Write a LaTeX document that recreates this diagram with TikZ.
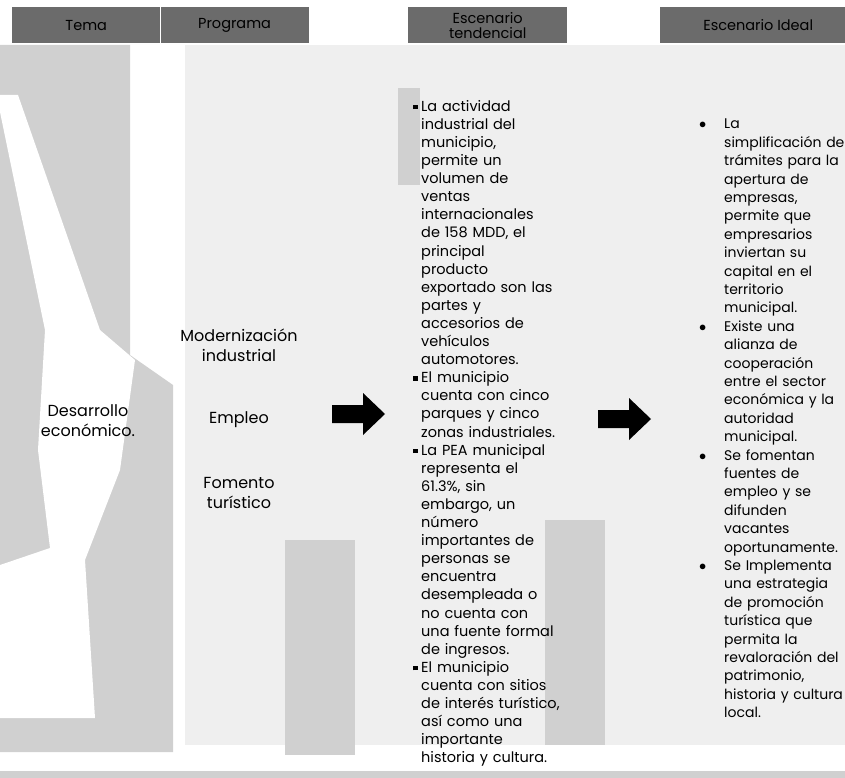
\documentclass[tikz,border=0pt]{standalone}
\usepackage{fontspec}
\setmainfont{Poppins}
\usepackage{xcolor}
\definecolor{Barra}{HTML}{6B6B6B}
\definecolor{Trama}{HTML}{D0D0D0}
\definecolor{TramaClara}{HTML}{EFEFEF}
\usetikzlibrary{positioning}
\newlength{\anchoTend}\setlength{\anchoTend}{137pt}
\newlength{\anchoIdeal}\setlength{\anchoIdeal}{120pt}
% renglones justificados
\newcommand{\jt}[1]{\makebox[\anchoTend][s]{#1}}
\newcommand{\ji}[1]{\makebox[\anchoIdeal][s]{#1}}
\newcommand{\vinC}{\leavevmode\llap{\rule[2pt]{4.5pt}{4.5pt}\hspace{3.5pt}}}
\newcommand{\vinR}{\leavevmode\llap{\makebox[25pt][l]{$\bullet$}}}
\tikzset{
  encabezado/.style={fill=Barra,anchor=north west,minimum height=36pt,inner sep=0pt,
    align=center,font=\fontsize{14.5}{15}\selectfont},
  tema/.style={align=center,font=\fontsize{16}{20}\selectfont},
  columna/.style={anchor=north west,inner sep=0pt,align=left,
    font=\fontsize{14.5}{18.1}\selectfont},
  trama/.style={fill=Trama,draw=none},
  tramaclara/.style={fill=TramaClara,draw=none},
  flechaBloque/.pic={\fill (0,-9) -- (31,-9) -- (31,-21) -- (53,0) -- (31,21) -- (31,9) -- (0,9) -- cycle;}
}

\begin{document}
\begin{tikzpicture}[x=1pt,y=-1pt]
  \useasboundingbox (0,0) rectangle (845,778);
  \clip (0,0) rectangle (845,778);
  % fondo del escaneo
  \fill[tramaclara] (185,45) rectangle (845,745);
  \fill[trama] (0,45) -- (130,45) -- (130,355) -- (173,385) -- (173,752) -- (0,752) -- cycle;
  \fill[white] (0,95) -- (18,95) -- (100,330) -- (135,360) -- (120,470) -- (85,560)
    -- (95,718) -- (0,718) -- (0,565) -- (50,548) -- (38,450) -- (45,330) -- (0,112) -- cycle;
  \fill[trama] (398,88) rectangle (420,185);
  \fill[trama] (285,540) rectangle (355,755);
  \fill[trama] (545,520) rectangle (605,745);
  \fill[trama] (0,771) rectangle (845,778);

  \node[encabezado,minimum width=148pt] (barTema) at (12,7) {Tema};
  \node[encabezado,minimum width=148pt,right=0pt of barTema] (barPrograma) {Programa};
  \node[encabezado,minimum width=159pt] (barTendencial) at (408,7) {Escenario\\tendencial};
  \node[encabezado,minimum width=196pt] (barIdeal) at (660,7) {Escenario Ideal};

  \node[tema] (desarrollo) at (88,421) {Desarrollo\\económico.};
  \node[tema] (modernizacion) at (239,345) {Modernización\\industrial};
  \node[tema] (empleo) at (239,420) {Empleo};
  \node[tema] (fomento) at (239,493) {Fomento\\turístico};

  \pic (flechaTema) at (332,414) {flechaBloque};
  \pic (flechaIdeal) at (598,419) {flechaBloque};

  \node[columna,text width=\anchoTend] (tendencial) at (421,100) {%
    \vinC\jt{La actividad}\\
    \jt{industrial del}\\
    municipio,\\
    \jt{permite un}\\
    \jt{volumen de}\\
    ventas\\
    internacionales\\
    \jt{de 158 MDD, el}\\
    principal\\
    producto\\
    \jt{exportado son las}\\
    \jt{partes y}\\
    \jt{accesorios de}\\
    vehículos\\
    automotores.\\
    \vinC\jt{El municipio}\\
    \jt{cuenta con cinco}\\
    \jt{parques y cinco}\\
    zonas industriales.\\
    \vinC\jt{La PEA municipal}\\
    \jt{representa el}\\
    \jt{61.3\%, sin}\\
    \jt{embargo, un}\\
    número\\
    \jt{importantes de}\\
    \jt{personas se}\\
    encuentra\\
    \jt{desempleada o}\\
    \jt{no cuenta con}\\
    \jt{una fuente formal}\\
    de ingresos.\\
    \vinC\jt{El municipio}\\
    \jt{cuenta con sitios}\\
    \jt{de interés turístico,}\\
    \jt{así como una}\\
    importante\\
    historia y cultura.};

  \node[columna,text width=\anchoIdeal,font=\fontsize{14}{18.4}\selectfont] (ideal) at (724,119) {%
    \vinR La\\
    \ji{simplificación de}\\
    \ji{trámites para la}\\
    \ji{apertura de}\\
    empresas,\\
    \ji{permite que}\\
    empresarios\\
    \ji{inviertan su}\\
    \ji{capital en el}\\
    territorio\\
    municipal.\\
    \vinR\ji{Existe una}\\
    \ji{alianza de}\\
    cooperación\\
    \ji{entre el sector}\\
    \ji{económica y la}\\
    autoridad\\
    municipal.\\
    \vinR\ji{Se fomentan}\\
    \ji{fuentes de}\\
    \ji{empleo y se}\\
    difunden\\
    vacantes\\
    oportunamente.\\
    \vinR\ji{Se Implementa}\\
    \ji{una estrategia}\\
    \ji{de promoción}\\
    \ji{turística que}\\
    \ji{permita la}\\
    \ji{revaloración del}\\
    patrimonio,\\
    \ji{historia y cultura}\\
    local.};
\end{tikzpicture}
\end{document}
